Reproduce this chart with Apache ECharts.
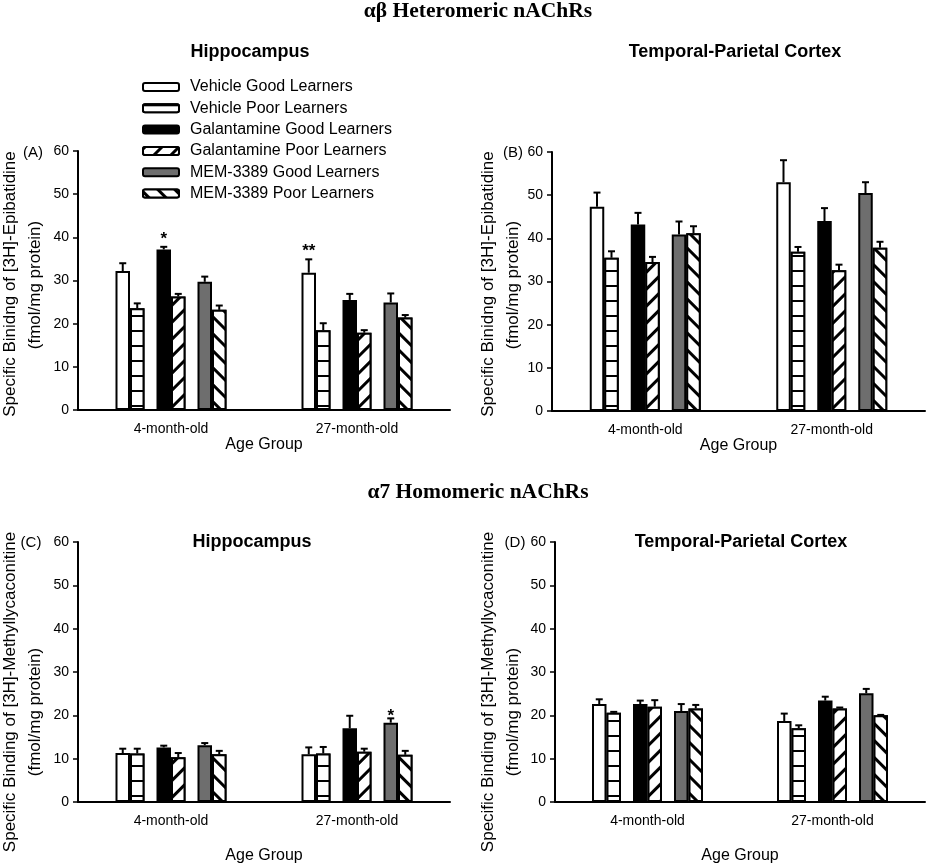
<!DOCTYPE html>
<html>
<head>
<meta charset="utf-8">
<script src="https://cdn.jsdelivr.net/npm/echarts@6/dist/echarts.min.js"></script>
<style>
html,body{margin:0;padding:0;background:#fff;}
#chart{width:927px;height:866px;}
</style>
</head>
<body>
<div id="chart"></div>
<script>
// ---------- data ----------
const categories = ['4-month-old', '27-month-old'];
const seriesNames = [
  'Vehicle Good Learners', 'Vehicle Poor Learners',
  'Galantamine Good Learners', 'Galantamine Poor Learners',
  'MEM-3389 Good Learners', 'MEM-3389 Poor Learners'
];
const yTicks = [0, 10, 20, 30, 40, 50, 60];

// Panel A: alpha-beta, Hippocampus  (per series: [4-month, 27-month])
const meanA = [[32.2, 31.8], [23.6, 18.5], [37.2, 25.5], [26.3, 17.9], [29.7, 24.9], [23.2, 21.4]];
const errA  = [[1.8, 3.1], [1.1, 1.6], [0.6, 1.4], [0.6, 0.6], [1.2, 2.1], [1.0, 0.6]];
const starsA = [[0, 2, '*', 40.5], [1, 0, '**', 37.8]];

// Panel B: alpha-beta, Temporal-Parietal Cortex
const meanB = [[47.3, 53.0], [35.5, 36.9], [43.2, 44.0], [34.5, 32.6], [40.9, 50.5], [41.2, 37.8]];
const errB  = [[3.3, 5.1], [1.5, 1.1], [2.7, 3.0], [1.2, 1.3], [3.0, 2.5], [1.6, 1.4]];
const starsB = [];

// Panel C: alpha7, Hippocampus
const meanC = [[11.3, 11.0], [11.2, 11.2], [12.6, 17.0], [10.3, 11.6], [13.1, 18.3], [11.0, 10.9]];
const errC  = [[1.0, 1.6], [1.1, 1.5], [0.4, 2.9], [1.0, 0.7], [0.5, 1.0], [0.8, 0.9]];
const starsC = [[1, 4, '*', 20.8]];

// Panel D: alpha7, Temporal-Parietal Cortex
const meanD = [[22.6, 18.7], [20.6, 17.0], [22.6, 23.4], [22.0, 21.6], [21.0, 25.1], [21.6, 20.0]];
const errD  = [[1.1, 1.7], [0.2, 0.7], [0.8, 0.9], [1.5, 0.2], [1.6, 1.0], [0.8, 0.1]];
const starsD = [];

// ---------- styling / layout ----------
const FONT = '"Liberation Sans", Arial, sans-serif';
const SERIF = '"Liberation Serif", "Times New Roman", serif';
const BAR_W = 14.5, SPACER_W = 12, CAP = 3.5;
const slotOrder = [0, 1, null, 2, 3, null, 4, 5];

const styles = [
  {color: '#fff', borderColor: '#000', borderWidth: 2},
  {color: '#fff', borderColor: '#000', borderWidth: 2,
   decal: {symbol: 'rect', symbolSize: 1, color: '#000', backgroundColor: '#fff', dashArrayX: [1, 0], dashArrayY: [2, 13], rotation: 0}},
  {color: '#000', borderColor: '#000', borderWidth: 2},
  {color: '#fff', borderColor: '#000', borderWidth: 2,
   decal: {symbol: 'rect', symbolSize: 1, color: '#000', backgroundColor: '#fff', dashArrayX: [1, 0], dashArrayY: [2.2, 8.4], rotation: -Math.PI / 4}},
  {color: '#6e6e6e', borderColor: '#000', borderWidth: 2},
  {color: '#fff', borderColor: '#000', borderWidth: 2,
   decal: {symbol: 'rect', symbolSize: 1, color: '#000', backgroundColor: '#fff', dashArrayX: [1, 0], dashArrayY: [2.2, 8.4], rotation: Math.PI / 4}}
];

function slotOffsets() {
  const widths = slotOrder.map(s => s === null ? SPACER_W : BAR_W);
  const total = widths.reduce((a, b) => a + b, 0);
  let x = -total / 2;
  const res = [];
  slotOrder.forEach((s, i) => { if (s !== null) res[s] = x + widths[i] / 2; x += widths[i]; });
  return res;
}
const OFFS = slotOffsets();

const panels = [
  {mean: meanA, err: errA, stars: starsA, grid: {left: 78, right: 477, top: 151, bottom: 456}, nameGap: 27},
  {mean: meanB, err: errB, stars: starsB, grid: {left: 552, right: 2, top: 152, bottom: 455}, nameGap: 27},
  {mean: meanC, err: errC, stars: starsC, grid: {left: 78, right: 477, top: 542, bottom: 64}, nameGap: 46},
  {mean: meanD, err: errD, stars: starsD, grid: {left: 555, right: 2, top: 542, bottom: 64}, nameGap: 46}
];

const grids = [], xAxes = [], yAxes = [], series = [];
panels.forEach((p, pi) => {
  grids.push(Object.assign({containLabel: false}, p.grid));
  xAxes.push({
    type: 'category', gridIndex: pi, data: categories,
    axisLine: {lineStyle: {color: '#000', width: 2}},
    axisTick: {alignWithLabel: true, length: 5, lineStyle: {color: '#000', width: 1.5}},
    axisLabel: {color: '#000', fontSize: 14, fontFamily: FONT, margin: 12},
    name: 'Age Group', nameLocation: 'middle', nameGap: p.nameGap,
    nameTextStyle: {color: '#000', fontSize: 16, fontFamily: FONT},
    splitLine: {show: false}
  });
  yAxes.push({
    type: 'value', gridIndex: pi, min: yTicks[0], max: yTicks[yTicks.length - 1], interval: 10,
    axisLine: {show: true, lineStyle: {color: '#000', width: 2}},
    axisTick: {show: true, length: 5, lineStyle: {color: '#000', width: 1.5}},
    axisLabel: {color: '#000', fontSize: 14, fontFamily: FONT, margin: 9},
    splitLine: {show: false}
  });
  slotOrder.forEach((s, k) => {
    if (s === null) {
      series.push({type: 'bar', name: '_spacer' + pi + '_' + k, xAxisIndex: pi, yAxisIndex: pi,
        data: ['-', '-'], barWidth: SPACER_W, barGap: '0%', silent: true});
    } else {
      series.push({type: 'bar', name: seriesNames[s], xAxisIndex: pi, yAxisIndex: pi,
        data: p.mean[s], barWidth: BAR_W, barGap: '0%', itemStyle: styles[s],
        emphasis: {disabled: true}});
    }
  });
  // error bars
  const errData = [];
  p.mean.forEach((arr, s) => arr.forEach((m, c) => errData.push([c, m, p.err[s][c], s])));
  series.push({
    type: 'custom', name: '_err' + pi, xAxisIndex: pi, yAxisIndex: pi, z: 5, silent: true,
    encode: {x: 0, y: 1}, data: errData,
    renderItem: function (params, api) {
      const c = api.value(0), m = api.value(1), e = api.value(2), s = api.value(3);
      const base = api.coord([c, m]);
      const top = api.coord([c, m + e]);
      const x = base[0] + OFFS[s];
      return {type: 'group', children: [
        {type: 'line', shape: {x1: x, y1: base[1], x2: x, y2: top[1]}, style: {stroke: '#000', lineWidth: 2}},
        {type: 'line', shape: {x1: x - CAP, y1: top[1], x2: x + CAP, y2: top[1]}, style: {stroke: '#000', lineWidth: 2}}
      ]};
    }
  });
  // significance stars
  if (p.stars.length) {
    const stars = p.stars;
    series.push({
      type: 'custom', name: '_star' + pi, xAxisIndex: pi, yAxisIndex: pi, z: 6, silent: true,
      encode: {x: 0, y: 1}, data: stars.map(st => [st[0], st[3], st[1]]),
      renderItem: function (params, api) {
        const pt = api.coord([api.value(0), api.value(1)]);
        const x = pt[0] + OFFS[api.value(2)];
        return {type: 'text', x: x, y: pt[1] + 4,
          style: {text: stars[params.dataIndex][2], font: 'bold 17px ' + FONT,
            textAlign: 'center', textVerticalAlign: 'middle', fill: '#000'}};
      }
    });
  }
});

function txt(text, x, y, font, rot) {
  return {type: 'text', x: x, y: y, rotation: rot || 0,
    style: {text: text, font: font, textAlign: 'center', textVerticalAlign: 'middle', fill: '#000'}};
}
const nameFont = '17px ' + FONT;
const graphics = [
  txt('αβ Heteromeric nAChRs', 478, 11, 'bold 21.5px ' + SERIF),
  txt('α7 Homomeric nAChRs', 478, 492, 'bold 21.5px ' + SERIF),
  txt('Hippocampus', 250, 52, 'bold 18px ' + FONT),
  txt('Temporal-Parietal Cortex', 735, 52, 'bold 18px ' + FONT),
  txt('Hippocampus', 252, 542, 'bold 18px ' + FONT),
  txt('Temporal-Parietal Cortex', 741, 542, 'bold 18px ' + FONT),
  txt('(A)', 33, 153, '15px ' + FONT),
  txt('(B)', 513, 153, '15px ' + FONT),
  txt('(C)', 31, 543, '15px ' + FONT),
  txt('(D)', 515, 543, '15px ' + FONT),
  txt('Specific Binidng of [3H]-Epibatidine', 10, 284, nameFont, Math.PI / 2),
  txt('(fmol/mg protein)', 35, 285, nameFont, Math.PI / 2),
  txt('Specific Binidng of [3H]-Epibatidine', 488, 284, nameFont, Math.PI / 2),
  txt('(fmol/mg protein)', 513, 285, nameFont, Math.PI / 2),
  txt('Specific Binding of [3H]-Methyllycaconitine', 10, 692, nameFont, Math.PI / 2),
  txt('(fmol/mg protein)', 35, 712, nameFont, Math.PI / 2),
  txt('Specific Binding of [3H]-Methyllycaconitine', 488, 692, nameFont, Math.PI / 2),
  txt('(fmol/mg protein)', 513, 712, nameFont, Math.PI / 2)
];

const chart = echarts.init(document.getElementById('chart'), null, {renderer: 'canvas'});
chart.setOption({
  animation: false,
  backgroundColor: '#fff',
  grid: grids,
  xAxis: xAxes,
  yAxis: yAxes,
  legend: {
    data: seriesNames, orient: 'vertical', left: 142, top: 79, padding: 0,
    itemWidth: 36, itemHeight: 8, itemGap: 5.3, icon: 'roundRect', selectedMode: false,
    textStyle: {color: '#000', fontSize: 16, fontFamily: FONT, lineHeight: 16, padding: [0, 0, 0, 6]}
  },
  graphic: graphics,
  series: series
});
</script>
</body>
</html>
